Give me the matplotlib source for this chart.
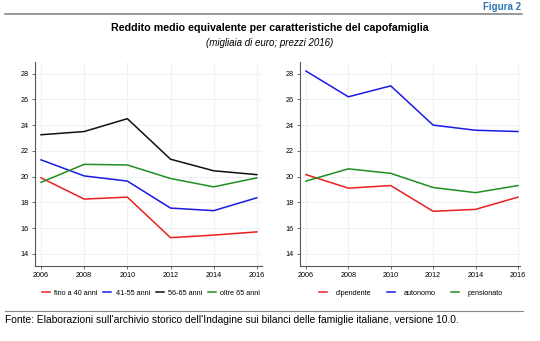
import matplotlib
matplotlib.use("Agg")
import matplotlib.pyplot as plt
from matplotlib.lines import Line2D

plt.rcParams['font.family'] = ['Liberation Sans', 'DejaVu Sans']

years = [2006, 2008, 2010, 2012, 2014, 2016]

# eta del capofamiglia
age_labels = ['fino a 40 anni', '41-55 anni', '56-65 anni', 'oltre 65 anni']
fino40 = [19.9, 18.25, 18.4, 15.25, 15.45, 15.7]
da41a55 = [21.3, 20.05, 19.65, 17.55, 17.35, 18.35]
da56a65 = [23.25, 23.5, 24.5, 21.35, 20.45, 20.15]
oltre65 = [19.55, 20.95, 20.9, 19.85, 19.2, 19.9]

# condizione professionale
job_labels = ['dipendente', 'autonomo', 'pensionato']
dipendente = [20.15, 19.1, 19.3, 17.3, 17.45, 18.4]
autonomo = [28.2, 26.2, 27.05, 24.0, 23.6, 23.5]
pensionato = [19.65, 20.6, 20.25, 19.15, 18.75, 19.3]

yticks = [14, 16, 18, 20, 22, 24, 26, 28]

RED = '#e8201e'
BLUE = '#1a1ae6'
BLACK = '#111111'
GREEN = '#1f8f1f'


def style_axes(ax, xlim):
    ax.set_xlim(*xlim)
    ax.set_ylim(13.05, 28.9)
    ax.set_xticks(years)
    ax.set_yticks(yticks)
    ax.grid(True, color='#eef2f4', linewidth=0.8)
    ax.set_axisbelow(True)
    for s in ['top', 'right']:
        ax.spines[s].set_visible(False)
    for s in ['left', 'bottom']:
        ax.spines[s].set_color('#555555')
        ax.spines[s].set_linewidth(0.8)
    ax.tick_params(labelsize=5.2, length=2.5, width=0.6, color='#555555', pad=2)


fig = plt.figure(figsize=(5.4, 3.41), dpi=100)

ax1 = fig.add_axes([0.0648, 0.22, 0.42, 0.598])
ax1.plot(years, fino40, color=RED, lw=1.1)
ax1.plot(years, da41a55, color=BLUE, lw=1.1)
ax1.plot(years, da56a65, color=BLACK, lw=1.1)
ax1.plot(years, oltre65, color=GREEN, lw=1.1)
style_axes(ax1, (2005.72, 2016.23))

ax2 = fig.add_axes([0.5556, 0.22, 0.4074, 0.598])
ax2.plot(years, dipendente, color=RED, lw=1.1)
ax2.plot(years, autonomo, color=BLUE, lw=1.1)
ax2.plot(years, pensionato, color=GREEN, lw=1.1)
style_axes(ax2, (2005.72, 2016.1))

h1 = [Line2D([], [], color=c, lw=1.1) for c in [RED, BLUE, BLACK, GREEN]]
fig.legend(h1, age_labels, loc='center', bbox_to_anchor=(151 / 540, 1 - 293 / 341),
           ncol=4, frameon=False, fontsize=5.2, handlelength=1.1,
           columnspacing=0.8, handletextpad=0.6)
h2 = [Line2D([], [], color=c, lw=1.1) for c in [RED, BLUE, GREEN]]
fig.legend(h2, job_labels, loc='center', bbox_to_anchor=(411 / 540, 1 - 293 / 341),
           ncol=3, frameon=False, fontsize=5.2, handlelength=1.1,
           columnspacing=2.2, handletextpad=1.2)

# header
fig.text(521 / 540, 1 - 7 / 341, 'Figura 2', ha='right', va='center',
         color='#2f75b5', fontsize=7, fontweight='bold')
fig.add_artist(Line2D([5 / 540, 522 / 540], [1 - 14 / 341] * 2, color='#888888', lw=1.2))
fig.text(0.5, 1 - 28 / 341, 'Reddito medio equivalente per caratteristiche del capofamiglia',
         ha='center', va='center', fontsize=7.7, fontweight='bold')
fig.text(0.5, 1 - 43 / 341, '(migliaia di euro; prezzi 2016)',
         ha='center', va='center', fontsize=7, style='italic')

# footer
fig.add_artist(Line2D([5 / 540, 523 / 540], [1 - 311 / 341] * 2, color='#888888', lw=0.8))
fig.text(5 / 540, 1 - 320 / 341,
         "Fonte: Elaborazioni sull'archivio storico dell'Indagine sui bilanci delle famiglie italiane, versione 10.0.",
         ha='left', va='center', fontsize=7.35)

fig.savefig('out.png', dpi=100)
